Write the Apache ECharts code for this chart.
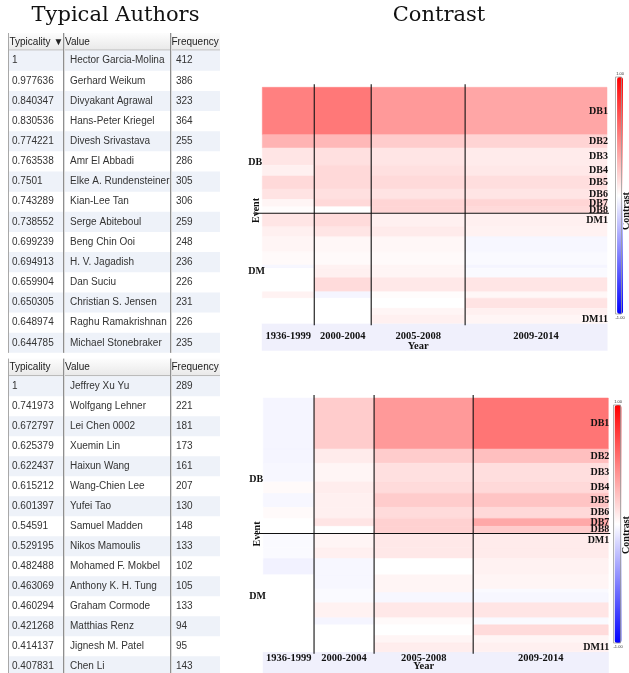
<!DOCTYPE html>
<html><head><meta charset="utf-8">
<script src="https://cdn.jsdelivr.net/npm/echarts/dist/echarts.min.js"></script>
<style>html,body{margin:0;padding:0;background:#fff}#c{width:629px;height:673px}</style>
</head><body><div id="c"></div><script>
// ---------------- DATA ----------------
const headers1 = ['Typicality \u25BC', 'Value', 'Frequency'];
const typicality1 = ['1','0.977636','0.840347','0.830536','0.774221','0.763538','0.7501','0.743289','0.738552','0.699239','0.694913','0.659904','0.650305','0.648974','0.644785'];
const authors1 = ['Hector Garcia-Molina','Gerhard Weikum','Divyakant Agrawal','Hans-Peter Kriegel','Divesh Srivastava','Amr El Abbadi','Elke A. Rundensteiner','Kian-Lee Tan','Serge Abiteboul','Beng Chin Ooi','H. V. Jagadish','Dan Suciu','Christian S. Jensen','Raghu Ramakrishnan','Michael Stonebraker'];
const frequency1 = [412,386,323,364,255,286,305,306,259,248,236,226,231,226,235];

const headers2 = ['Typicality', 'Value', 'Frequency'];
const typicality2 = ['1','0.741973','0.672797','0.625379','0.622437','0.615212','0.601397','0.54591','0.529195','0.482488','0.463069','0.460294','0.421268','0.414137','0.407831'];
const authors2 = ['Jeffrey Xu Yu','Wolfgang Lehner','Lei Chen 0002','Xuemin Lin','Haixun Wang','Wang-Chien Lee','Yufei Tao','Samuel Madden','Nikos Mamoulis','Mohamed F. Mokbel','Anthony K. H. Tung','Graham Cormode','Matthias Renz','Jignesh M. Patel','Chen Li'];
const frequency2 = [289,221,181,173,161,207,130,148,133,102,105,133,94,95,143];

const periods = ['1936-1999','2000-2004','2005-2008','2009-2014'];
const events = ['DB1','DB2','DB3','DB4','DB5','DB6','DB7','DB8','DM1','DM2','DM3','DM4','DM5','DM6','DM7','DM8','DM9','DM10','DM11'];
const eventGroups = ['DB','DM'];
const shownEventLabels = ['DB1','DB2','DB3','DB4','DB5','DB6','DB7','DB8','DM1','DM11'];
// relative size of each event (row height share)
const eventShare = [47.4,13.3,17.3,10.7,13,10.3,7.4,6.6,13.4,10,15,13.3,3.3,9.4,14,6.6,10,6.7,8.3];
// relative size of each period (column width share)
const periodShare1 = [52,57,94,142];
const periodShare2 = [50.7,60,99,135];
// contrast: rows = events, columns = periods
const contrast1 = [
  [0.50,0.53,0.40,0.35],
  [0.30,0.28,0.20,0.17],
  [0.10,0.12,0.10,0.08],
  [0.06,0.15,0.12,0.09],
  [0.15,0.15,0.145,0.13],
  [0.11,0.12,0.11,0.10],
  [0.04,0.15,0.165,0.165],
  [0.01,0.00,0.165,0.145],
  [0.10,0.14,0.06,0.06],
  [0.06,0.10,0.08,0.05],
  [0.04,0.03,0.03,-0.03],
  [0.02,0.02,0.02,-0.02],
  [-0.03,0.05,0.04,-0.04],
  [0.00,0.06,0.04,-0.02],
  [0.00,0.14,0.09,0.10],
  [0.05,-0.04,0.01,0.03],
  [0.00,0.00,0.00,0.11],
  [0.00,0.00,0.04,0.06],
  [0.00,0.00,0.06,0.04]
];
const contrast2 = [
  [-0.04,0.20,0.40,0.54],
  [-0.04,0.08,0.20,0.25],
  [-0.03,0.04,0.12,0.13],
  [0.02,0.07,0.14,0.15],
  [-0.03,0.06,0.20,0.23],
  [0.02,0.06,0.14,0.15],
  [0.00,0.10,0.18,0.34],
  [0.00,0.00,0.18,0.20],
  [-0.02,0.04,0.09,0.08],
  [-0.02,0.06,0.09,0.08],
  [-0.05,-0.03,0.00,0.05],
  [0.00,-0.03,0.04,0.04],
  [0.00,-0.02,0.04,-0.02],
  [0.00,-0.02,-0.03,-0.03],
  [0.00,0.05,0.09,0.10],
  [0.00,-0.04,0.02,-0.02],
  [0.00,0.00,0.00,0.14],
  [0.00,0.00,0.04,0.04],
  [0.00,0.00,0.07,0.06]
];
const colorbarText = ['1.00','-1.00'];

// ---------------- LAYOUT ----------------
const chart = echarts.init(document.getElementById('c'), null, {renderer:'canvas'});
const SERIF = '"Liberation Serif","Times New Roman",serif';
const grids = [
  {left:262.3, top:87.3, width:344.7, height:236},
  {left:263.3, top:398, width:345, height:253.7}
];
// per-heatmap band below the plot: [band height, period label offset, "Year" offset]
const bandLayout = [[27.4, 12.7, 22.7], [21.5, 6.2, 14.2]];
function cum(a){const r=[0];a.forEach(v=>r.push(r[r.length-1]+v));return r;}
const yb = cum(eventShare);
const yMax = yb[yb.length-1];
const dbCount = events.filter(e=>e.indexOf('DB')===0).length;

function txt(style){
  return Object.assign({}, style, {
    align: style.textAlign, verticalAlign: style.textVerticalAlign
  });
}

function heatSeries(k, periodShare, contrast){
  const xb = cum(periodShare), xMax = xb[xb.length-1];
  const band = bandLayout[k];
  const cells = [];
  contrast.forEach((row,i)=>row.forEach((v,j)=>cells.push([xb[j],xb[j+1],yb[i],yb[i+1],v])));
  const base = {type:'custom', xAxisIndex:k, yAxisIndex:k, clip:false, silent:true, animation:false};
  const font = 'bold 10px ' + SERIF;
  const pfont = 'bold 10.5px ' + SERIF;
  return [
    Object.assign({}, base, {name:'contrast'+k, data:cells, encode:{x:[0,1], y:[2,3]}, z:2,
      renderItem:(p,api)=>{
        const a=api.coord([api.value(0),api.value(2)]), b=api.coord([api.value(1),api.value(3)]);
        const c=api.visual('color');
        return {type:'rect', shape:{x:a[0],y:a[1],width:b[0]-a[0],height:b[1]-a[1]}, style:{fill:c, stroke:c, lineWidth:0.5}};
      }}),
    // period band + labels
    Object.assign({}, base, {data: periods.map((s,j)=>[xb[j],xb[j+1],j]), encode:{x:[0,1]}, z:1,
      renderItem:(p,api)=>{
        const a=api.coord([api.value(0),yMax]), b=api.coord([api.value(1),yMax]);
        const j=api.value(2);
        const children=[
          {type:'rect', shape:{x:a[0]-0.5,y:a[1],width:b[0]-a[0]+1,height:band[0]}, style:{fill:'#f0f0fc'}},
          {type:'text', style:txt({text:periods[j], x:(a[0]+b[0])/2, y:a[1]+band[1], font:pfont, fill:'#111', textAlign:'center', textVerticalAlign:'middle'})}
        ];
        if (j===2) children.push({type:'text', style:txt({text:'Year', x:(a[0]+b[0])/2, y:a[1]+band[2], font:pfont, fill:'#111', textAlign:'center', textVerticalAlign:'middle'})});
        return {type:'group', children};
      }}),
    // vertical period dividers
    Object.assign({}, base, {data: xb.slice(1,-1).map(x=>[x,0]), encode:{x:0,y:1}, z:5,
      renderItem:(p,api)=>{
        const a=api.coord([api.value(0),0]), b=api.coord([api.value(0),yMax]);
        return {type:'line', shape:{x1:a[0],y1:a[1]-3,x2:b[0],y2:b[1]+2}, style:{stroke:'#111',lineWidth:1.1}};
      }}),
    // DB / DM divider
    Object.assign({}, base, {data: [[0,yb[dbCount]]], encode:{x:0,y:1}, z:5,
      renderItem:(p,api)=>{
        const a=api.coord([0,api.value(1)]), b=api.coord([xMax,api.value(1)]);
        return {type:'line', shape:{x1:a[0]-9,y1:a[1],x2:b[0]+2,y2:b[1]}, style:{stroke:'#111',lineWidth:1.1}};
      }}),
    // event labels at right
    Object.assign({}, base, {data: events.map((e,i)=>[xMax,yb[i],yb[i+1],i]).filter(d=>shownEventLabels.indexOf(events[d[3]])>=0), encode:{x:0,y:[1,2]}, z:6,
      renderItem:(p,api)=>{
        const a=api.coord([api.value(0),api.value(1)]), b=api.coord([api.value(0),api.value(2)]);
        return {type:'text', style:txt({text:events[api.value(3)], x:a[0]+1, y:(a[1]+b[1])/2, font:font, fill:'#111', textAlign:'right', textVerticalAlign:'middle'})};
      }}),
    // group labels at left
    Object.assign({}, base, {data: [[0,0,yb[dbCount],0],[0,yb[dbCount],yMax,1]], encode:{x:0,y:[1,2]}, z:6,
      renderItem:(p,api)=>{
        const a=api.coord([0,api.value(1)]), b=api.coord([0,api.value(2)]);
        const f = api.value(3)===0 ? 0.6 : 0.53;
        return {type:'text', style:txt({text:eventGroups[api.value(3)], x:a[0]-14, y:a[1]+(b[1]-a[1])*f, font:font, fill:'#111', textAlign:'left', textVerticalAlign:'middle'})};
      }})
  ];
}

const series = heatSeries(0, periodShare1, contrast1).concat(heatSeries(1, periodShare2, contrast2));
const xb1 = cum(periodShare1), xb2 = cum(periodShare2);

// ---------------- TABLES (graphic) ----------------
function tableElements(top, headers, typ, names, freq, pitch){
  const els=[];
  const L=8, R=220, C1=63, C2=170, headerH=17.6;
  const bodyTop = top + headerH;
  const font = '10px "Liberation Sans", Arial, sans-serif';
  els.push({type:'rect', shape:{x:L,y:top,width:R-L,height:headerH}, style:{fill:new echarts.graphic.LinearGradient(0,0,0,1,[{offset:0,color:'#fdfdfd'},{offset:1,color:'#e8e8e8'}])}, silent:true});
  els.push({type:'line', shape:{x1:L,y1:top+headerH-0.5,x2:R,y2:top+headerH-0.5}, style:{stroke:'#b0b0b0',lineWidth:1}, silent:true});
  const hx=[L+1.5, C1+2, C2+1.5];
  headers.forEach((h,i)=>els.push({type:'text', style:txt({text:h, x:hx[i], y:top+headerH/2, font:font, fill:'#222', textAlign:'left', textVerticalAlign:'middle'}), silent:true}));
  typ.forEach((t,i)=>{
    const y0 = bodyTop + i*pitch;
    if (i%2===0) els.push({type:'rect', shape:{x:L,y:y0,width:R-L,height:pitch}, style:{fill:'#eef2f9'}, silent:true});
    const yc = y0 + pitch/2;
    [[t,L+4],[names[i],C1+7],[String(freq[i]),C2+6]].forEach(([s,x])=>els.push({type:'text', style:txt({text:s, x:x, y:yc, font:font, fill:'#333', textAlign:'left', textVerticalAlign:'middle'}), silent:true}));
  });
  const bottom = bodyTop + typ.length*pitch;
  els.push({type:'line', shape:{x1:L+0.5,y1:top,x2:L+0.5,y2:bottom}, style:{stroke:'#a8a8a8',lineWidth:1}, silent:true});
  [C1,C2].forEach(x=>{
    els.push({type:'line', shape:{x1:x+0.5,y1:top,x2:x+0.5,y2:bottom}, style:{stroke:'#8f8f8f',lineWidth:1}, silent:true});
    els.push({type:'line', shape:{x1:x+1.5,y1:top,x2:x+1.5,y2:bottom}, style:{stroke:'#dcdcdc',lineWidth:1}, silent:true});
  });
  return els;
}

const graphics = [].concat(
  tableElements(33, headers1, typicality1, authors1, frequency1, 20.15),
  tableElements(358.6, headers2, typicality2, authors2, frequency2, 20.0),
  [
    {type:'text', style:txt({text:'Typical Authors', x:115.5, y:26, font:'21px "DejaVu Serif", serif', fill:'#111', textAlign:'center', textVerticalAlign:'bottom'}), silent:true},
    {type:'text', style:txt({text:'Contrast', x:439, y:26, font:'21px "DejaVu Serif", serif', fill:'#111', textAlign:'center', textVerticalAlign:'bottom'}), silent:true},
    {type:'text', x:256, y:210.5, rotation:Math.PI/2, style:txt({text:'Event', x:0, y:0, font:'bold 10px '+SERIF, fill:'#111', textAlign:'center', textVerticalAlign:'middle'}), silent:true},
    {type:'text', x:257, y:534, rotation:Math.PI/2, style:txt({text:'Event', x:0, y:0, font:'bold 10px '+SERIF, fill:'#111', textAlign:'center', textVerticalAlign:'middle'}), silent:true},
    {type:'text', x:626, y:211, rotation:Math.PI/2, style:txt({text:'Contrast', x:0, y:0, font:'bold 10px '+SERIF, fill:'#111', textAlign:'center', textVerticalAlign:'middle'}), silent:true},
    {type:'text', x:626, y:535, rotation:Math.PI/2, style:txt({text:'Contrast', x:0, y:0, font:'bold 10px '+SERIF, fill:'#111', textAlign:'center', textVerticalAlign:'middle'}), silent:true},
    {type:'rect', shape:{x:615.5,y:77,width:6,height:237}, style:{fill:'none',stroke:'#9a9a9a',lineWidth:0.8}, silent:true, z:100},
    {type:'rect', shape:{x:613.5,y:405,width:7,height:238}, style:{fill:'none',stroke:'#9a9a9a',lineWidth:0.8}, silent:true, z:100}
  ]
);

const vmBase = {type:'continuous', min:-1, max:1, dimension:4, calculable:false, hoverLink:false, orient:'vertical',
  inRange:{color:['#0000ff','#ffffff','#ff0000']}, text:colorbarText, textGap:1.5, padding:0,
  textStyle:{fontSize:4, color:'#333'}};

chart.setOption({
  animation:false,
  grid: grids.map(g=>Object.assign({containLabel:false}, g)),
  xAxis: [
    {type:'value', gridIndex:0, min:0, max:xb1[xb1.length-1], show:false},
    {type:'value', gridIndex:1, min:0, max:xb2[xb2.length-1], show:false}
  ],
  yAxis: [
    {type:'value', gridIndex:0, min:0, max:yMax, inverse:true, show:false},
    {type:'value', gridIndex:1, min:0, max:yMax, inverse:true, show:false}
  ],
  visualMap: [
    Object.assign({}, vmBase, {seriesIndex:0, left:615.5, top:71.5, itemWidth:6, itemHeight:237}),
    Object.assign({}, vmBase, {seriesIndex:6, left:613.5, top:399.5, itemWidth:7, itemHeight:238})
  ],
  graphic: {elements: graphics},
  series: series
});
</script></body></html>
